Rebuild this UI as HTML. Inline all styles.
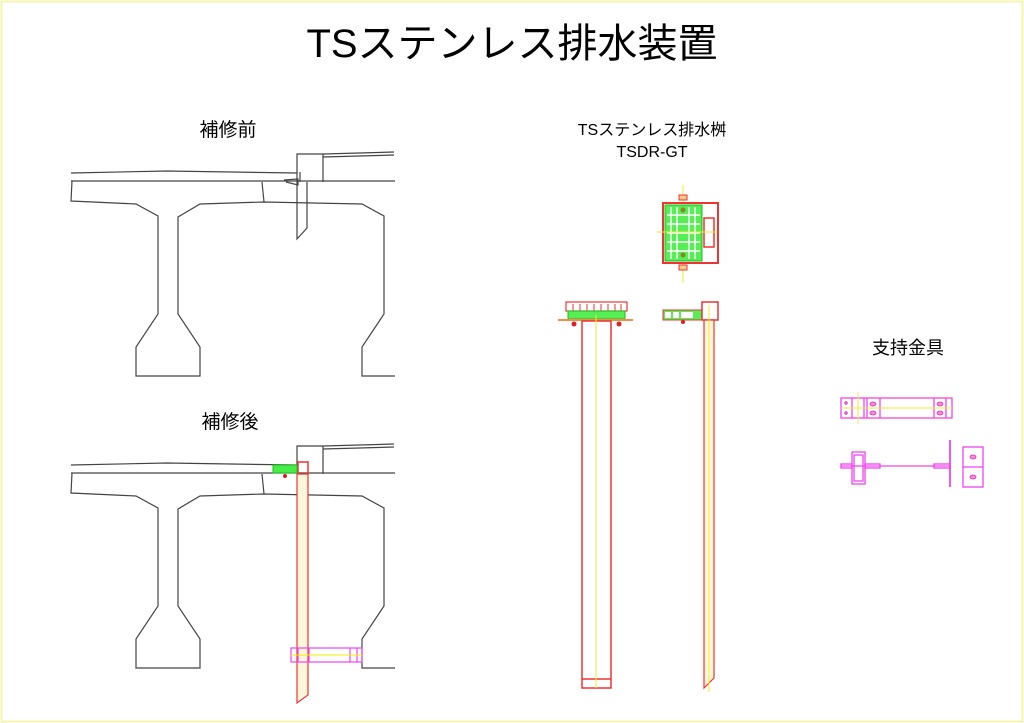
<!DOCTYPE html>
<html><head><meta charset="utf-8"><style>
html,body{margin:0;padding:0;background:#fff;}
svg{display:block;}
text{font-family:"Liberation Sans","Noto Sans CJK JP",sans-serif;fill:#000;}
</style></head><body>
<svg width="1024" height="723" viewBox="0 0 1024 723" xmlns="http://www.w3.org/2000/svg">
<rect x="1.5" y="1.5" width="1021" height="720" fill="none" stroke="#f4f4b0" stroke-width="2"/>
<text x="512" y="57" font-size="40" text-anchor="middle">TSステンレス排水装置</text>
<text x="228" y="136" font-size="19" text-anchor="middle">補修前</text>
<text x="230" y="428" font-size="19" text-anchor="middle">補修後</text>
<text x="652" y="135" font-size="16" text-anchor="middle">TSステンレス排水桝</text>
<text x="652" y="157" font-size="16" text-anchor="middle">TSDR-GT</text>
<text x="908" y="354" font-size="18" text-anchor="middle">支持金具</text>

<defs>
<g id="girder" fill="none" stroke="#444" stroke-width="1.2">
<polyline points="71,173 167,171 297,173"/>
<line x1="71" y1="181" x2="395" y2="181"/>
<polyline points="72,181 71,201 136,204 158,216 158,314 136,347 136,376 200,376 200,347 178,314 178,217 200,204 264,202 362,204 384,216 384,314 362,347 362,376 395,376"/>
<line x1="262" y1="182" x2="264" y2="202"/>
<polyline points="297,173 297,154 323,154 323,182"/>
<line x1="323" y1="154" x2="394" y2="152"/>
<line x1="323" y1="157" x2="394" y2="155"/>
</g>
</defs>
<use href="#girder"/>
<g fill="none" stroke="#444" stroke-width="1.2">
<polyline points="297,172 297,239 307,228 307,182"/>
<polyline points="300,172 300,182"/>
<polyline points="284,180 298,179 298,185 286,182"/>
</g>
<use href="#girder" transform="translate(0,292)"/>
<!-- after pipe -->
<rect x="298" y="462" width="10" height="12" fill="none" stroke="#e33" stroke-width="1.5"/>
<polygon points="297,474 308,474 308,695 297,703" fill="#fff6dc" stroke="#e33" stroke-width="1.2"/>
<rect x="273" y="465" width="24" height="8" fill="#4e4" stroke="#2b2" stroke-width="1"/>
<circle cx="285" cy="476" r="2" fill="#c22"/>
<g stroke="#e4e" fill="none" stroke-width="1.2">
<rect x="291" y="648" width="71" height="14"/>
<line x1="298" y1="648" x2="298" y2="662"/><line x1="309" y1="648" x2="309" y2="662"/>
<line x1="350" y1="648" x2="350" y2="662"/><line x1="357" y1="648" x2="357" y2="662"/>
</g>
<line x1="291" y1="655" x2="362" y2="655" stroke="#ee0" stroke-width="1"/>

<!-- plan view -->
<line x1="683" y1="185" x2="683" y2="283" stroke="#ee3" stroke-width="1"/>
<rect x="663" y="203" width="55" height="60" fill="#fff" stroke="#e33" stroke-width="2"/>
<rect x="665" y="205" width="37" height="56" fill="#5e5" stroke="#2b2"/>
<g stroke="#fff" stroke-width="1.5">
<line x1="671" y1="207" x2="671" y2="259"/><line x1="677" y1="207" x2="677" y2="259"/><line x1="689" y1="207" x2="689" y2="259"/><line x1="695" y1="207" x2="695" y2="259"/>
<line x1="667" y1="215" x2="700" y2="215"/><line x1="667" y1="224" x2="700" y2="224"/><line x1="667" y1="233" x2="700" y2="233"/><line x1="667" y1="242" x2="700" y2="242"/><line x1="667" y1="251" x2="700" y2="251"/>
</g>
<rect x="704" y="218" width="10" height="29" fill="none" stroke="#e33" stroke-width="1.5"/>
<line x1="657" y1="232" x2="717" y2="232" stroke="#ee3" stroke-width="1"/>
<rect x="679" y="195" width="8" height="5" fill="#fc8" stroke="#e33"/>
<rect x="679" y="265" width="8" height="5" fill="#fc8" stroke="#e33"/>
<circle cx="683" cy="210" r="2.5" fill="#882"/><circle cx="683" cy="255" r="2.5" fill="#882"/>

<!-- front view -->
<rect x="566" y="302" width="61" height="9" fill="#fff" stroke="#e33" stroke-width="1.2"/>
<g stroke="#e33" stroke-width="1"><line x1="573" y1="304" x2="573" y2="311"/><line x1="580" y1="304" x2="580" y2="311"/><line x1="587" y1="304" x2="587" y2="311"/><line x1="594" y1="304" x2="594" y2="311"/><line x1="601" y1="304" x2="601" y2="311"/><line x1="608" y1="304" x2="608" y2="311"/><line x1="615" y1="304" x2="615" y2="311"/><line x1="621" y1="304" x2="621" y2="311"/></g>
<rect x="568" y="311" width="57" height="8" fill="#5e5" stroke="#2b2"/>
<line x1="558" y1="320" x2="633" y2="320" stroke="#f84" stroke-width="2"/>
<circle cx="574" cy="324" r="2.5" fill="#d22"/><circle cx="619" cy="324" r="2.5" fill="#d22"/>
<rect x="582" y="321" width="29" height="367" fill="none" stroke="#e33" stroke-width="1.5"/>
<line x1="582" y1="679" x2="611" y2="679" stroke="#e33" stroke-width="1.5"/>
<line x1="596" y1="315" x2="596" y2="688" stroke="#ee3" stroke-width="1"/>

<!-- side view -->
<rect x="663" y="310" width="39" height="10" fill="#5e5" stroke="#e33"/>
<rect x="665" y="312" width="6" height="6" fill="#fff"/><rect x="673" y="312" width="6" height="6" fill="#fff"/><rect x="681" y="312" width="12" height="6" fill="#fff"/>
<circle cx="683" cy="322" r="2" fill="#d22"/>
<rect x="702" y="302" width="16" height="18" fill="#fff" stroke="#e33" stroke-width="1.5"/>
<polygon points="704,320 714,320 714,678 704,688" fill="#fff6dc" stroke="#e33" stroke-width="1.2"/>
<line x1="709" y1="305" x2="709" y2="692" stroke="#ee3" stroke-width="1"/>

<!-- brackets -->
<g stroke="#e4e" fill="none" stroke-width="1.3">
<rect x="841" y="398" width="111" height="20"/>
<line x1="852" y1="398" x2="852" y2="418"/><line x1="864" y1="398" x2="864" y2="418"/><line x1="867" y1="398" x2="867" y2="418"/><line x1="880" y1="398" x2="880" y2="418"/>
<line x1="934" y1="398" x2="934" y2="418"/><line x1="946" y1="398" x2="946" y2="418"/>
<rect x="852" y="452" width="13" height="32"/><rect x="854" y="455" width="9" height="26"/>
<line x1="841" y1="466" x2="950" y2="466"/><rect x="841" y="464" width="11" height="4"/><rect x="865" y="464" width="15" height="4"/><rect x="934" y="464" width="16" height="4"/>
<line x1="950" y1="440" x2="950" y2="487" stroke-width="1.8"/>
<rect x="963" y="447" width="20" height="40"/><line x1="963" y1="467" x2="983" y2="467"/>
</g>
<line x1="841" y1="408" x2="952" y2="408" stroke="#ee3"/>
<line x1="858" y1="392" x2="858" y2="424" stroke="#ee3"/>
<g fill="#f8c" stroke="#c3c" stroke-width=".8">
<ellipse cx="873" cy="404" rx="3" ry="2"/><ellipse cx="873" cy="413" rx="3" ry="2"/><ellipse cx="940" cy="404" rx="3" ry="2"/><ellipse cx="940" cy="413" rx="3" ry="2"/>
<ellipse cx="973" cy="457" rx="3" ry="2"/><ellipse cx="973" cy="477" rx="3" ry="2"/>
<circle cx="846" cy="403" r="1.3"/><circle cx="846" cy="413" r="1.3"/>
</g>
</svg>
</body></html>
